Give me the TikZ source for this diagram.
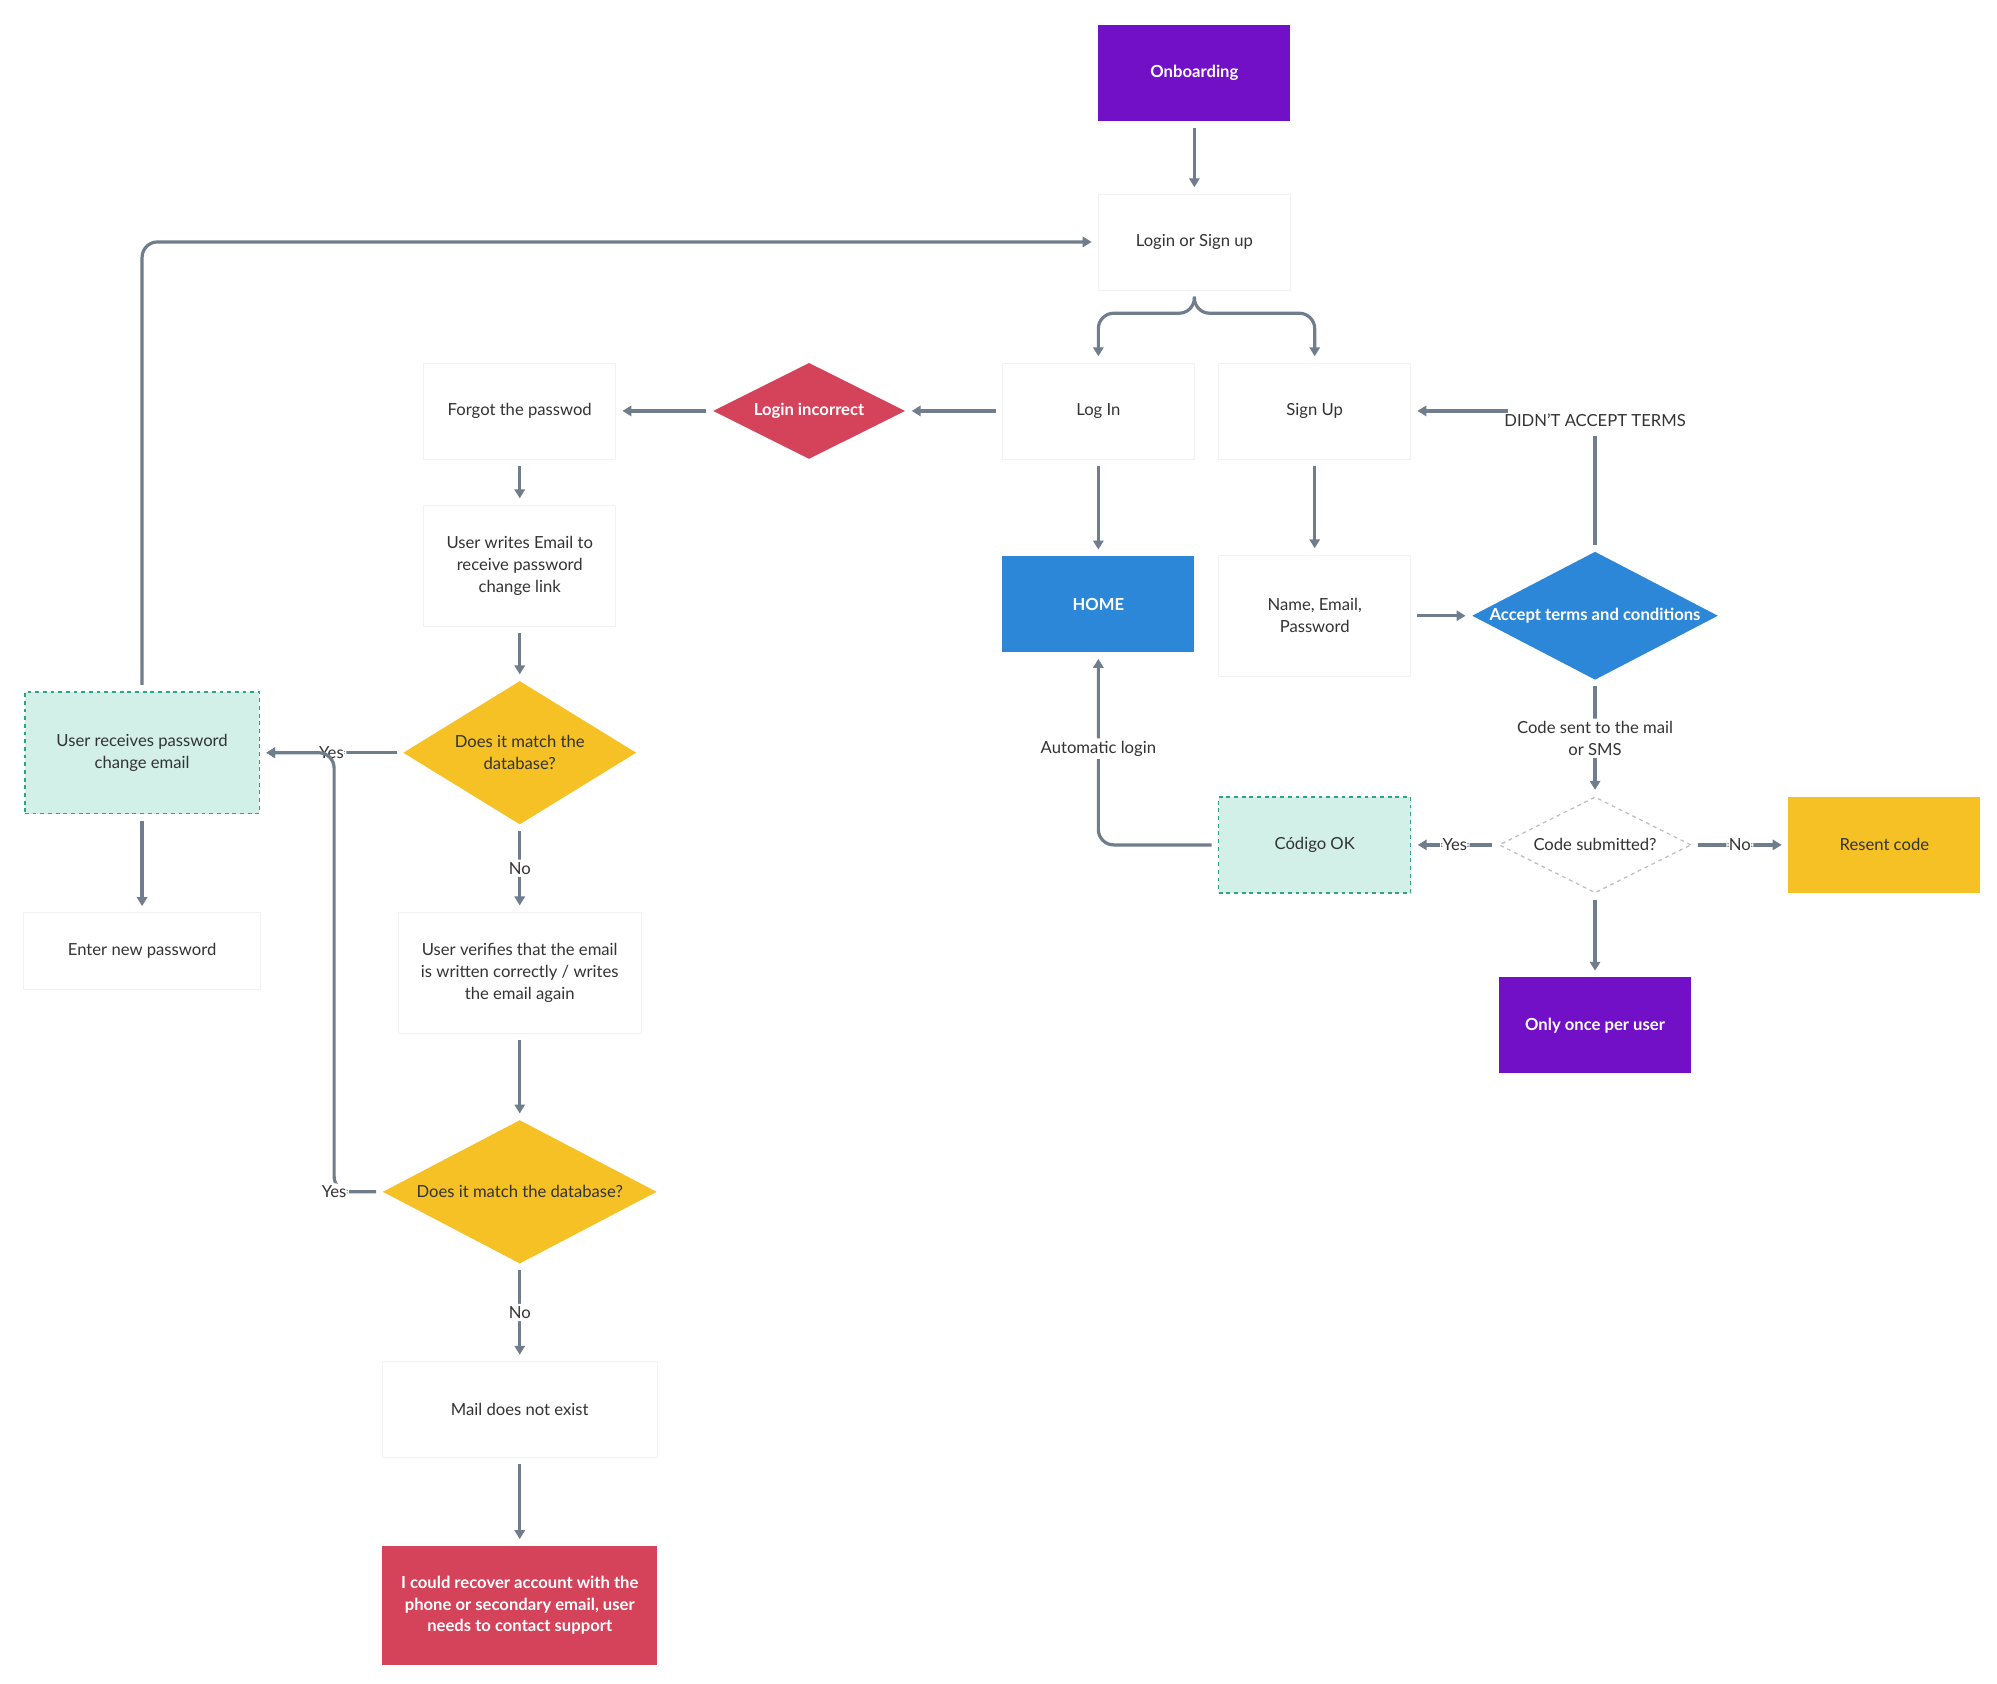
\documentclass[tikz,border=0pt]{standalone}
\usepackage{fontspec}
\setmainfont{Lato}
\usetikzlibrary{shapes.geometric,arrows.meta,calc}
\definecolor{purp}{HTML}{7210C7}
\definecolor{redc}{HTML}{D5435A}
\definecolor{yel}{HTML}{F5C125}
\definecolor{blu}{HTML}{2D87D8}
\definecolor{mint}{HTML}{D2EFE8}
\definecolor{teal}{HTML}{2BA58A}
\definecolor{ln}{HTML}{6F7D8C}
\begin{document}
\begin{tikzpicture}[x=1pt,y=-1pt,
  every node/.style={font=\fontsize{13}{17}\selectfont,align=center,text=black!80},
  box/.style={rectangle,inner sep=2pt,minimum width=150pt,minimum height=75pt},
  wbox/.style={box,fill=white,draw=black!5},
  cbox/.style={box,fill=#1,text=white,font=\fontsize{13}{17}\selectfont\bfseries},
  mbox/.style={box,fill=mint,draw=teal,dashed,line width=1pt},
  dia/.style={diamond,inner sep=0,fill=#1,draw=none},
  e/.style={draw=ln,line width=2.5pt,-{Triangle[length=7pt,width=8pt]},rounded corners=12pt,shorten >=5pt,shorten <=5pt},
  lab/.style={fill=white,inner sep=2pt}]
\useasboundingbox (0,0) rectangle (1560,1315);

\node[cbox=purp] (onb) at (933,57) {Onboarding};
\node[wbox] (login) at (933,189) {Login or Sign up};
\node[wbox] (logi) at (858,321) {Log In};
\node[wbox] (sign) at (1027,321) {Sign Up};
\node[dia=redc,minimum width=150pt,minimum height=75pt] (linc) at (632,321) {};
\node[text=white,font=\fontsize{13}{17}\selectfont\bfseries] at (linc) {Login incorrect};
\node[wbox] (forg) at (406,321) {Forgot the passwod};
\node[wbox,minimum height=95pt] (writ) at (406,442) {User writes Email to\\receive password\\change link};
\node[dia=yel,minimum width=182pt,minimum height=112pt] (d1) at (406,588) {};
\node at (d1) {Does it match the\\database?};
\node[mbox,minimum width=183pt,minimum height=95pt] (recv) at (111,588) {User receives password\\change email};
\node[wbox,minimum width=185pt,minimum height=60pt] (newp) at (111,743) {Enter new password};
\node[wbox,minimum width=190pt,minimum height=95pt] (veri) at (406,760) {User verifies that the email\\is written correctly / writes\\the email again};
\node[dia=yel,minimum width=214pt,minimum height=112pt] (d2) at (406,931) {};
\node at (d2) {Does it match the database?};
\node[wbox,minimum width=215pt] (mail) at (406,1101) {Mail does not exist};
\node[cbox=redc,minimum width=215pt,minimum height=93pt] (reco) at (406,1254) {I could recover account with the\\phone or secondary email, user\\needs to contact support};
\node[cbox=blu] (home) at (858,472) {HOME};
\node[wbox,minimum height=95pt] (name) at (1027,481) {Name, Email,\\Password};
\node[dia=blu,minimum width=192pt,minimum height=100pt] (acc) at (1246,481) {};
\node[text=white,font=\fontsize{13}{17}\selectfont\bfseries] at (acc) {Accept terms and conditions};
\node[dia=white,draw=black!25,dashed,line width=1pt,minimum width=150pt,minimum height=75pt] (cs) at (1246,660) {};
\node at (cs) {Code submitted?};
\node[mbox] (cok) at (1027,660) {Código OK};
\node[box,fill=yel] (res) at (1472,660) {Resent code};
\node[cbox=purp] (once) at (1246,801) {Only once per user};

\node[inner sep=2pt] (dat) at (1246,328) {DIDN'T ACCEPT TERMS};
\coordinate (datw) at (1178,321);

\draw[e] (onb) -- (login);
\draw[e] (login.south) -- ++(0,18) -| (logi.north);
\draw[e] (login.south) -- ++(0,18) -| (sign.north);
\draw[e] (logi) -- (linc);
\draw[e] (linc) -- (forg);
\draw[e] (forg) -- (writ);
\draw[e] (writ) -- (d1);
\draw[e] (d1) -- node[lab]{Yes} (recv);
\draw[e] (d1) -- node[lab]{No} (veri);
\draw[e] (veri) -- (d2);
\draw[e] (d2.west) -| node[lab,pos=0.5]{Yes} (261,588) -- (recv.east);
\draw[e] (d2) -- node[lab]{No} (mail);
\draw[e] (mail) -- (reco);
\draw[e] (recv) -- (newp);
\draw[e] (recv.north) |- (login.west);
\draw[e] (logi) -- (home);
\draw[e] (sign) -- (name);
\draw[e] (name) -- (acc);
\draw[e,-] (acc.north) -- (dat.south);
\draw[e,shorten <=0pt] (datw) -- (sign.east);
\draw[e] (acc) -- node[lab]{Code sent to the mail\\or SMS} (cs);
\draw[e] (cs) -- node[lab]{Yes} (cok);
\draw[e] (cs) -- node[lab]{No} (res);
\draw[e] (cs) -- (once);
\draw[e] (cok.west) -| node[lab,pos=0.75]{Automatic login} (home.south);
\end{tikzpicture}
\end{document}
